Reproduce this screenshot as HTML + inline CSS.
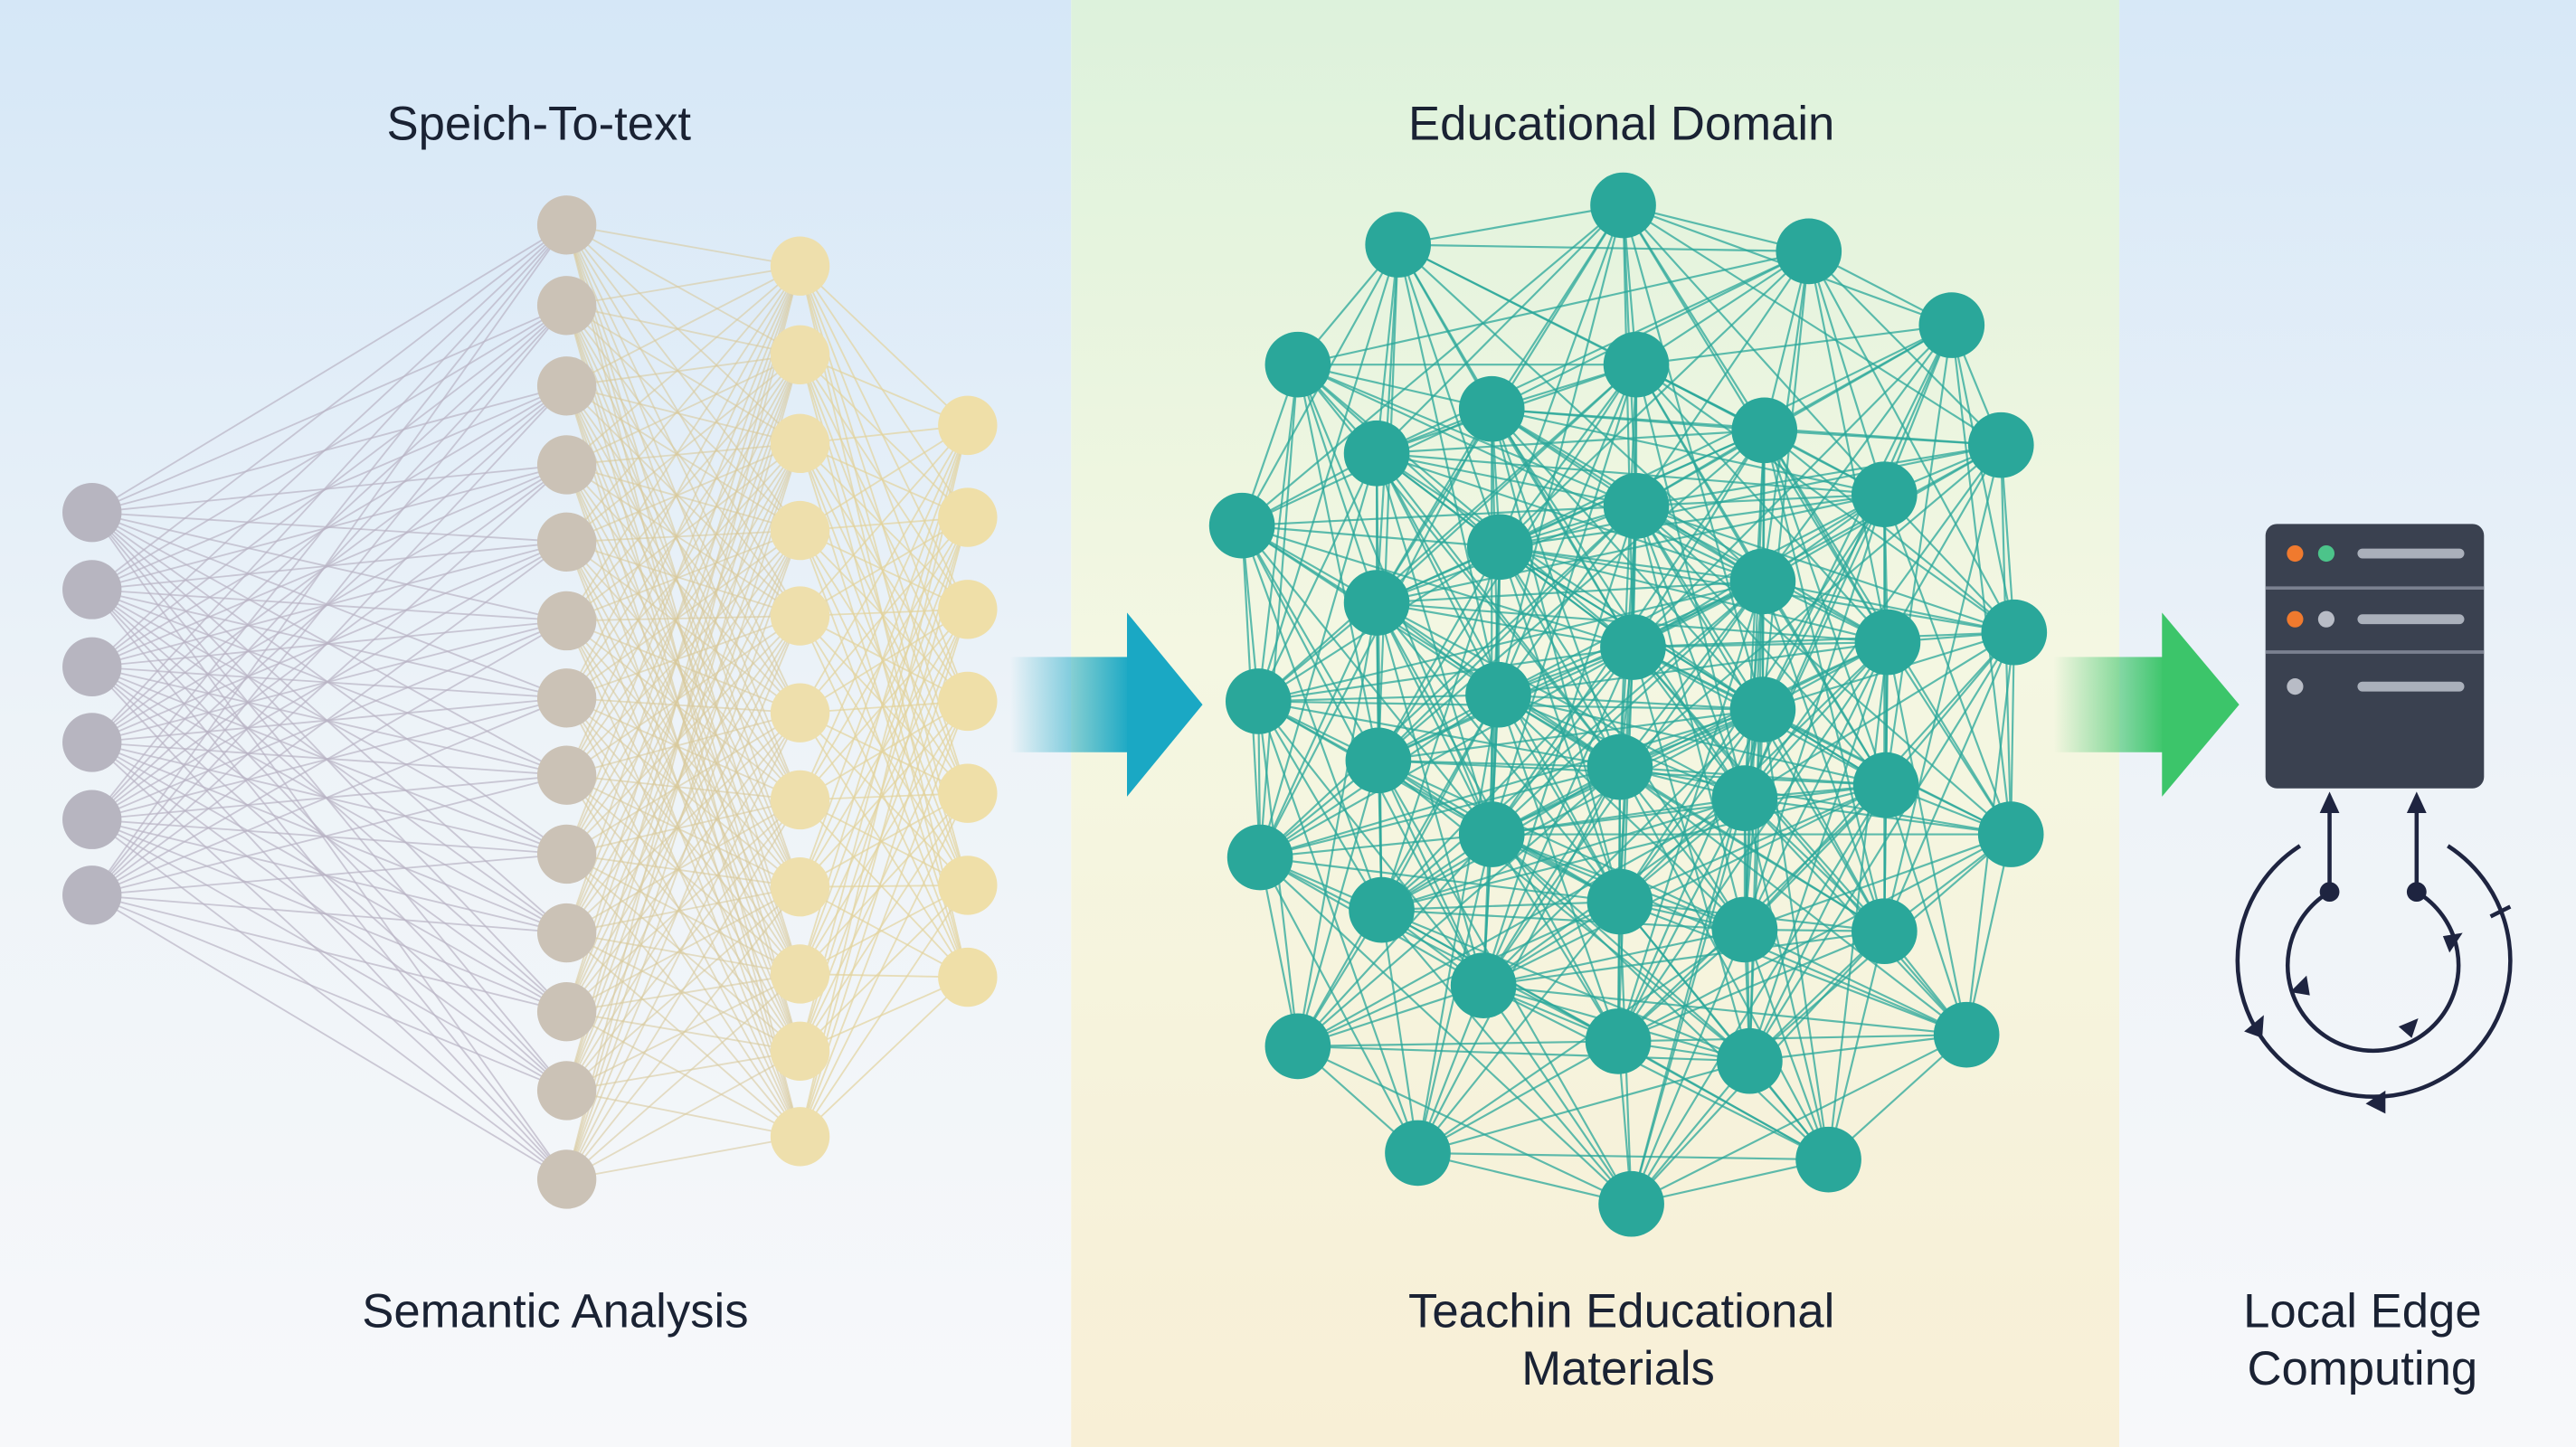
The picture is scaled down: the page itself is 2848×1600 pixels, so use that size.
<!DOCTYPE html>
<html><head><meta charset="utf-8"><style>
html,body{margin:0;padding:0;width:2848px;height:1600px;overflow:hidden;background:#fff}
svg{display:block}
text{font-family:"Liberation Sans",sans-serif;fill:#1a2233}
</style></head><body>
<svg width="2848" height="1600" viewBox="0 0 1568 881" preserveAspectRatio="none" xmlns="http://www.w3.org/2000/svg">
<defs>
<linearGradient id="bgL" x1="0" y1="0" x2="0" y2="1"><stop offset="0" stop-color="#d5e7f7"/><stop offset="0.5" stop-color="#edf3f8"/><stop offset="1" stop-color="#f7f8fa"/></linearGradient>
<linearGradient id="bgM" x1="0" y1="0" x2="0" y2="1"><stop offset="0" stop-color="#ddf2dc"/><stop offset="0.45" stop-color="#f4f7e2"/><stop offset="1" stop-color="#f8efd6"/></linearGradient>
<linearGradient id="bgR" x1="0" y1="0" x2="0" y2="1"><stop offset="0" stop-color="#d7e8f7"/><stop offset="0.55" stop-color="#eef3f8"/><stop offset="1" stop-color="#f7f8fa"/></linearGradient>
<linearGradient id="ab" x1="0" y1="0" x2="1" y2="0"><stop offset="0" stop-color="#1aa8c4" stop-opacity="0"/><stop offset="1" stop-color="#1aa8c4"/></linearGradient>
<linearGradient id="ag" x1="0" y1="0" x2="1" y2="0"><stop offset="0" stop-color="#3cc56a" stop-opacity="0"/><stop offset="1" stop-color="#3cc56a"/></linearGradient>
</defs>
<rect x="0" y="0" width="652" height="881" fill="url(#bgL)"/>
<rect x="652" y="0" width="638" height="881" fill="url(#bgM)"/>
<rect x="1290" y="0" width="278" height="881" fill="url(#bgR)"/>

<g id="leftnet"></g>
<g id="midnet"></g>

<text x="328" y="85" font-size="29" text-anchor="middle">Speich-To-text</text>
<text x="987" y="85" font-size="29" text-anchor="middle">Educational Domain</text>
<text x="338" y="808" font-size="29" text-anchor="middle">Semantic Analysis</text>
<text x="987" y="808" font-size="29" text-anchor="middle">Teachin Educational</text>
<text x="985" y="843" font-size="29" text-anchor="middle">Materials</text>
<text x="1438" y="808" font-size="29" text-anchor="middle">Local Edge</text>
<text x="1438" y="843" font-size="29" text-anchor="middle">Computing</text>

<rect x="615" y="400" width="73" height="58" fill="url(#ab)"/>
<polygon points="686,373 732,429 686,485" fill="#1aa8c4"/>
<rect x="1250" y="400" width="68" height="58" fill="url(#ag)"/>
<polygon points="1316,373 1363,429 1316,485" fill="#3cc56a"/>

<rect x="1379" y="319" width="133" height="161" rx="7" fill="#3a4150"/>
<line x1="1379" y1="358" x2="1512" y2="358" stroke="#7b8190" stroke-width="2"/>
<line x1="1379" y1="397" x2="1512" y2="397" stroke="#7b8190" stroke-width="2"/>
<circle cx="1397" cy="337" r="5" fill="#f07a2e"/><circle cx="1416" cy="337" r="5" fill="#4cc48a"/>
<circle cx="1397" cy="377" r="5" fill="#f07a2e"/><circle cx="1416" cy="377" r="5" fill="#b8bcc6"/>
<circle cx="1397" cy="418" r="5" fill="#b8bcc6"/>
<rect x="1435" y="334" width="65" height="6" rx="3" fill="#aab0bb"/>
<rect x="1435" y="374" width="65" height="6" rx="3" fill="#aab0bb"/>
<rect x="1435" y="415" width="65" height="6" rx="3" fill="#aab0bb"/>

<g stroke="#1e2440" stroke-width="2.5" fill="none">
<line x1="1418" y1="543" x2="1418" y2="488"/><line x1="1471" y1="543" x2="1471" y2="488"/>
<path d="M1418,543 A52,52 0 1 0 1471,543"/>
<path d="M1400,515 A83,83 0 1 0 1490,515"/>
<line x1="1516" y1="558" x2="1528" y2="552"/>
</g>
<g fill="#1e2440">
<polygon points="1418,482 1412,495 1424,495"/><polygon points="1471,482 1465,495 1477,495"/>
<circle cx="1418" cy="543" r="6"/><circle cx="1471" cy="543" r="6"/>
<polygon points="1487,570 1499,568 1491,580"/>
<polygon points="1394,604 1404,594 1406,606"/>
<polygon points="1460,625 1472,620 1468,632"/>
<polygon points="1366,628 1378,618 1377,632"/>
<polygon points="1440,672 1452,664 1452,678"/>
</g>
</svg>
<script>
(function(){
var NS="http://www.w3.org/2000/svg";
function el(t,a,p){var e=document.createElementNS(NS,t);for(var k in a)e.setAttribute(k,a[k]);p.appendChild(e);return e;}
var L=document.getElementById("leftnet");
var l1=[312,359,406,452,499,545].map(function(y){return[56,y]});
var l2=[137,186,235,283,330,378,425,472,520,568,616,664,718].map(function(y){return[345,y]});
var l3=[162,216,270,323,375,434,487,540,593,640,692].map(function(y){return[487,y]});
var l4=[259,315,371,427,483,539,595].map(function(y){return[589,y]});
function conn(a,b,c,o){a.forEach(function(p){b.forEach(function(q){el("line",{x1:p[0],y1:p[1],x2:q[0],y2:q[1],stroke:c,"stroke-width":1,"stroke-opacity":o},L);});});}
conn(l1,l2,"#b9b3c4",0.7);conn(l2,l3,"#d8ca9c",0.6);conn(l3,l4,"#e2d39d",0.7);
function nodes(a,c){a.forEach(function(p){el("circle",{cx:p[0],cy:p[1],r:18,fill:c},L);});}
nodes(l1,"#b7b5c0");nodes(l2,"#cbc2b6");nodes(l3,"#eedfac");nodes(l4,"#efdfa8");
var M=document.getElementById("midnet");
var n=[[851,149],[988,125],[1101,153],[1188,198],[790,222],[996,222],[908,249],[1074,262],[1218,271],[838,276],[1147,301],[756,320],[913,333],[996,308],[1073,354],[838,367],[1149,391],[1226,385],[994,394],[766,427],[912,423],[1073,432],[839,463],[986,467],[1148,478],[1062,486],[908,508],[1224,508],[767,522],[841,554],[986,549],[1062,566],[1147,567],[903,600],[790,637],[985,634],[1065,646],[1197,630],[863,702],[993,733],[1113,706]];
for(var i=0;i<n.length;i++)for(var j=i+1;j<n.length;j++){var dx=n[i][0]-n[j][0],dy=n[i][1]-n[j][1],d=Math.sqrt(dx*dx+dy*dy);
if(d<320&&((i*7+j*13)%10<8||d<180))el("line",{x1:n[i][0],y1:n[i][1],x2:n[j][0],y2:n[j][1],stroke:"#2aa79a","stroke-width":1.2,"stroke-opacity":0.75},M);}
n.forEach(function(p){el("circle",{cx:p[0],cy:p[1],r:20,fill:"#2aa79a"},M);});
})();
</script>
</body></html>
